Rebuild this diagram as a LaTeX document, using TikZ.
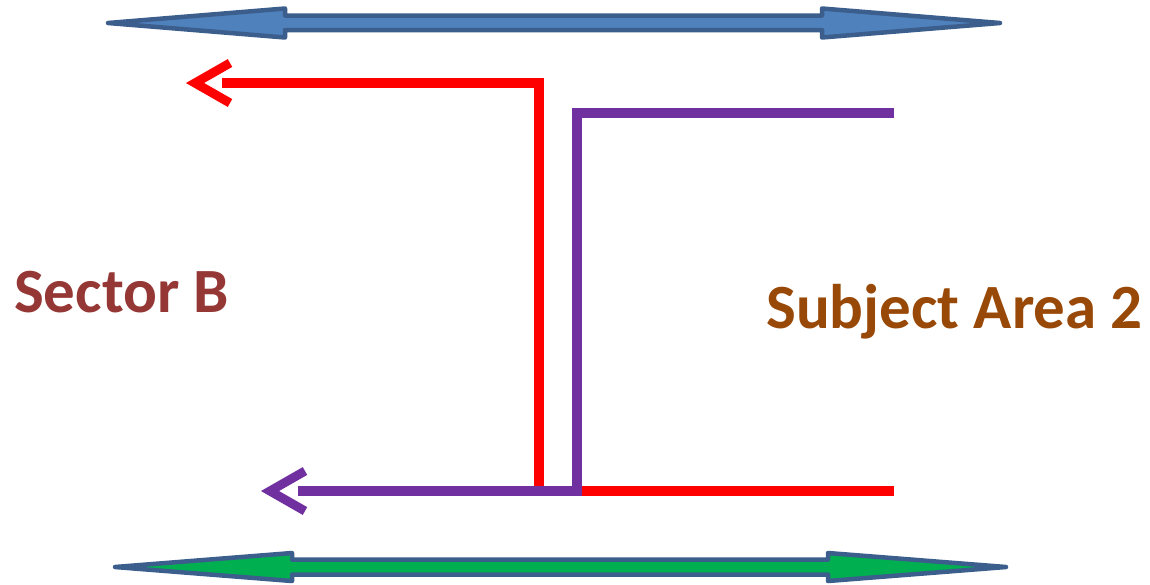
\documentclass[tikz,border=0pt]{standalone}
\usepackage{fontspec}
\setmainfont{Carlito}
\definecolor{outl}{HTML}{3B5E8C}
\definecolor{topfill}{HTML}{4F81BD}
\definecolor{botfill}{HTML}{00B050}
\definecolor{redl}{HTML}{FF0000}
\definecolor{purl}{HTML}{7030A0}
\definecolor{sectc}{HTML}{953735}
\definecolor{subjc}{HTML}{984807}
\begin{document}
\begin{tikzpicture}[x=1pt,y=-1pt,
  bigarrow/.style={draw=outl,line width=4.5pt,line join=round},
  wire/.style={line width=9.5pt,line join=miter},
  chevron/.style={line width=9pt,line join=miter,miter limit=10},
  label/.style={inner sep=0pt,anchor=base west}]
\useasboundingbox (0,0) rectangle (1150,584);
% top double arrow
\filldraw[bigarrow,fill=topfill] (108,23) -- (285,8.5) -- (285,15.5) -- (822,15.5) -- (822,8.5) -- (1000,23) -- (822,37.5) -- (822,30) -- (285,30) -- (285,37.5) -- cycle;
% bottom double arrow
\filldraw[bigarrow,fill=botfill] (115,567) -- (292,553) -- (292,559.5) -- (828,559.5) -- (828,553) -- (1006,567) -- (828,581) -- (828,574.5) -- (292,574.5) -- (292,581) -- cycle;
% coordinates
\coordinate (rEnd) at (894,491);
\coordinate (rCorner1) at (539,491);
\coordinate (rCorner2) at (539,83);
\coordinate (rStart) at (222,83);
\coordinate (pEnd) at (894,113);
\coordinate (pCorner1) at (577,113);
\coordinate (pCorner2) at (577,491);
\coordinate (pStart) at (298,491);
% red wire
\draw[wire,redl] (rEnd) -- (rCorner1) -- (rCorner2) -- (rStart);
\draw[chevron,redl] (230,63) -- (195,83) -- (230,103);
% purple wire
\draw[wire,purl] (pEnd) -- (pCorner1) -- (pCorner2) -- (pStart);
\draw[chevron,purl] (305,471) -- (270,491) -- (305,511);
% labels
\node[label,text=sectc,font=\bfseries\fontsize{63}{63}\selectfont] (sector) at (14,312) {Sector B};
\node[label,text=subjc,font=\bfseries\fontsize{63}{63}\selectfont] (subject) at (766,328) {Subject Area 2};
\end{tikzpicture}
\end{document}
